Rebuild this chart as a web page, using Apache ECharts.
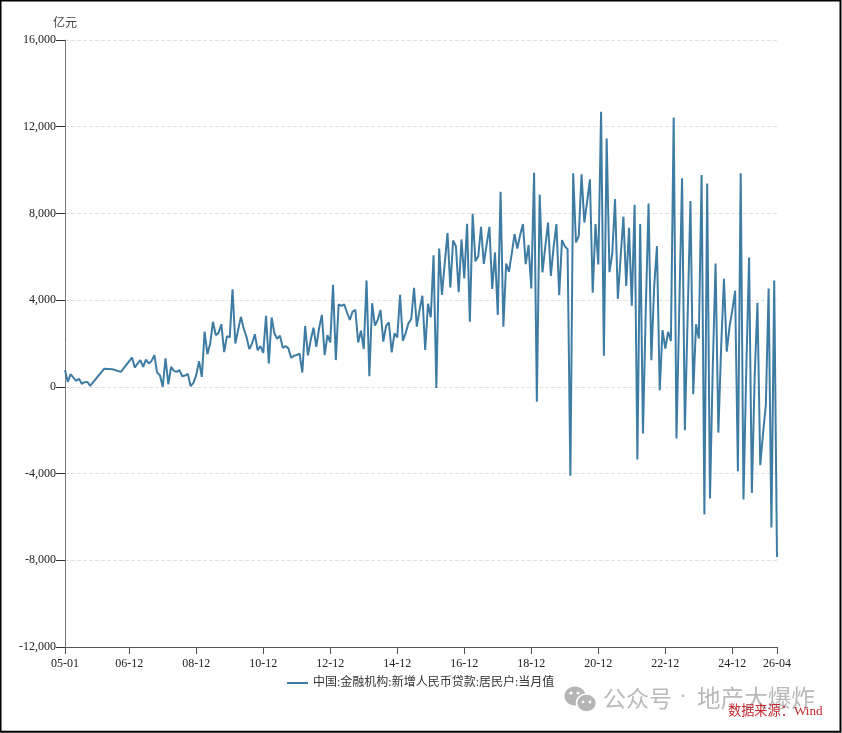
<!DOCTYPE html>
<html>
<head>
<meta charset="utf-8">
<style>html,body{margin:0;padding:0;background:#fff}#chart{width:842px;height:733px}</style>
<script src="https://cdn.jsdelivr.net/npm/echarts@6/dist/echarts.min.js"></script>
</head>
<body>
<div id="chart"></div>
<script>
// Monthly household RMB loans, 100 million yuan, starting January 2005. Null = no reading that month.
const seriesName = '中国:金融机构:新增人民币贷款:居民户:当月值';
const unitLabel = '亿元';
const sourceLabel = '数据来源：Wind';
const watermarkAccount = '公众号';
const watermarkDot = '·';
const watermarkName = '地产大爆炸';
const tickLabels = ['05-01','06-12','08-12','10-12','12-12','14-12','16-12','18-12','20-12','22-12','24-12','26-04'];
const values2005to2009 = [
  770,230,585,430,280,370,140,215,230,50,null,null,
  null,null,830,null,null,815,null,null,690,null,null,null,
  1350,890,1075,1230,920,1260,1075,1200,1460,660,540,0,
  1320,120,920,740,690,770,490,520,600,30,185,540,
  1185,460,2550,1510,2000,3000,2385,2490,2890,1600,2340,2280
];
const values2010to2014 = [
  4500,2000,2620,3230,2690,2310,1740,2000,2430,1690,1880,1570,
  3280,1080,3200,2470,2220,2360,1800,1880,1775,1340,1435,1465,
  1530,660,2810,1450,2160,2730,1850,2700,3320,1465,2390,2050,
  4710,1235,3810,3735,3810,3430,3090,3475,3550,2050,2590,1745,
  4910,490,3860,2825,3090,3550,2085,2810,2980,1590,2470,2285
];
const values2015to2019 = [
  4245,2130,2470,2930,3130,4570,2780,3550,4200,1700,3830,3210,
  6070,-50,6380,4245,5700,7100,4580,6750,6490,4370,6800,5000,
  7520,3010,7980,5790,6020,7380,5670,6560,7380,4520,6200,3320,
  9000,2770,5690,5310,6150,7050,6380,7000,7510,5660,6540,4540,
  9880,-690,8870,5280,6460,7580,5120,6460,7510,4230,6770,6490
];
const values2020to2026 = [
  6350,-4100,9850,6660,6970,9800,7580,8540,9570,4340,7510,5650,
  12690,1430,11460,5290,6150,8660,4060,6000,7850,4660,7340,3740,
  8400,-3350,7510,-2150,3540,8460,1230,4600,6490,-150,2620,1770,
  2540,2120,12430,-2380,3600,9620,-2000,3230,8570,-340,2890,2230,
  9770,-5890,9380,-5150,920,5690,-2110,1850,4980,1620,2770,3540,
  4430,-3890,9850,-5200,800,5970,-4890,460,3880,-3610,-2150,-850,
  4540,-6490,4910,-7850
];
const monthlyValues = [...values2005to2009, ...values2010to2014, ...values2015to2019, ...values2020to2026];

// Category labels in yy-mm form, one per month
const categories = monthlyValues.map((_, i) => {
  const yy = 5 + Math.floor(i / 12);
  const mm = i % 12 + 1;
  return String(yy).padStart(2, '0') + '-' + String(mm).padStart(2, '0');
});
const showTick = (index, value) => tickLabels.includes(value);

const serif = '"Liberation Serif","Noto Sans CJK SC",serif';
const sans = '"Noto Sans CJK SC",sans-serif';
const chart = echarts.init(document.getElementById('chart'));
chart.setOption({
  animation: false,
  backgroundColor: '#fff',
  grid: { left: 65, right: 65, top: 40, bottom: 86, containLabel: false },
  legend: {
    data: [{ name: seriesName, icon: 'rect' }],
    left: 287, top: 677, padding: 0,
    itemWidth: 21, itemHeight: 2,
    textStyle: { fontFamily: serif, fontSize: 12, color: '#333' }
  },
  xAxis: {
    type: 'category',
    data: categories,
    boundaryGap: false,
    axisLine: { onZero: false, lineStyle: { color: '#555', width: 1 } },
    axisTick: { show: true, interval: showTick, length: 7, lineStyle: { color: '#555' } },
    axisLabel: { interval: showTick, showMinLabel: true, showMaxLabel: true, hideOverlap: false,
      fontFamily: serif, fontSize: 12, color: '#222', margin: 11 },
    splitLine: { show: false }
  },
  yAxis: {
    type: 'value',
    min: -12000, max: 16000, interval: 4000,
    name: unitLabel,
    nameLocation: 'end',
    nameGap: 10,
    nameTextStyle: { fontFamily: serif, fontSize: 12, color: '#444', align: 'center' },
    axisLine: { show: true, onZero: false, lineStyle: { color: '#777', width: 1 } },
    axisTick: { show: true, length: 9, lineStyle: { color: '#333' } },
    axisLabel: { fontFamily: serif, fontSize: 12, color: '#222', margin: 0,
      formatter: v => v.toLocaleString('en-US') , padding: [0, 9, 0, 0] },
    splitLine: { show: true, lineStyle: { color: '#e2e2e2', type: 'dashed', width: 1 } }
  },
  series: [{
    name: seriesName,
    type: 'line',
    data: monthlyValues,
    connectNulls: true,
    showSymbol: false,
    symbol: 'none',
    lineStyle: { color: '#3f7ca3', width: 2 },
    itemStyle: { color: '#3f7ca3' }
  }],
  graphic: [
    // page frame
    { type: 'rect', silent: true, z: 100, shape: { x: 0.5, y: 0.5, width: 840, height: 731.3 },
      style: { fill: 'none', stroke: '#000', lineWidth: 2 } },
    // chat-bubble icon beside the account name
    { type: 'group', silent: true, z: 90, children: [
      { type: 'ellipse', shape: { cx: 575, cy: 696, rx: 10.5, ry: 9.5 }, style: { fill: '#b5b5b5' } },
      { type: 'ellipse', shape: { cx: 586.5, cy: 703, rx: 10, ry: 9 }, style: { fill: '#b5b5b5', stroke: '#fff', lineWidth: 1.5 } },
      { type: 'circle', shape: { cx: 571, cy: 693, r: 1.6 }, style: { fill: '#fff' } },
      { type: 'circle', shape: { cx: 578, cy: 693, r: 1.6 }, style: { fill: '#fff' } },
      { type: 'circle', shape: { cx: 583, cy: 702, r: 1.4 }, style: { fill: '#fff' } },
      { type: 'circle', shape: { cx: 590, cy: 702, r: 1.4 }, style: { fill: '#fff' } }
    ] },
    { type: 'text', silent: true, z: 90, x: 603, y: 698,
      style: { text: watermarkAccount, fontFamily: sans, fontSize: 23, fill: '#b9b9b9', verticalAlign: 'middle' } },
    { type: 'text', silent: true, z: 90, x: 683, y: 698,
      style: { text: watermarkDot, fontFamily: 'Roboto,sans-serif', fontSize: 23, fill: '#b9b9b9', align: 'center', verticalAlign: 'middle' } },
    { type: 'text', silent: true, z: 90, x: 697, y: 698,
      style: { text: watermarkName, fontFamily: sans, fontSize: 23.6, fill: '#b9b9b9', verticalAlign: 'middle' } },
    { type: 'text', silent: true, z: 95, x: 728, y: 712,
      style: { text: sourceLabel, fontFamily: serif, fontSize: 13.2, fill: '#c0272d', verticalAlign: 'middle' } }
  ]
});
</script>
</body>
</html>
